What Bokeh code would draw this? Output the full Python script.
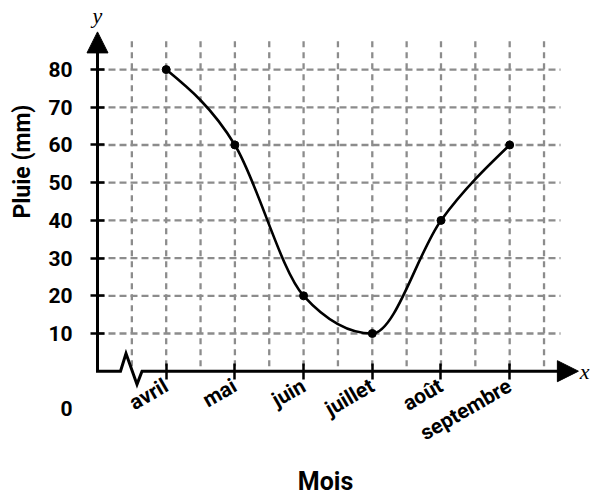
import math
import numpy as np
from bokeh.plotting import figure
from bokeh.models import Arrow, NormalHead, Label, FixedTicker
from bokeh.embed import file_html
from bokeh.resources import INLINE

# ---- data ----
months = ["avril", "mai", "juin", "juillet", "août", "septembre"]
rain = [80, 60, 20, 10, 40, 60]
y_ticks = [10, 20, 30, 40, 50, 60, 70, 80]
zero_label = "0"
x_title = "Mois"
y_title = "Pluie (mm)"

xs = list(range(len(months)))

# ---- geometry of the drawn axes (data units) ----
y_axis_x = -1.0
y_axis_top = 90.0
x_axis_tip = 6.0
grid_top = 87.5
grid_right = 5.74
break_x = [-0.665, -0.585, -0.425, -0.352]
break_y = [0.0, 4.7, -3.5, 0.0]

FONT = "Roboto"
SERIF = "Liberation Serif"
GRID = "#8c8c8c"

p = figure(width=591, height=498, x_range=(-2.412, 6.191), y_range=(-33.77, 98.33),
           output_backend="svg", toolbar_location=None, min_border=0)
p.outline_line_color = None
p.xgrid.visible = False
p.ygrid.visible = False

# ---- dashed grid ----
gx = np.arange(-0.5, len(months) - 0.5 + 0.01, 0.5)
p.segment(x0=gx, x1=gx, y0=grid_top, y1=0, line_color=GRID, line_width=2.3, line_dash="6 5")
p.segment(x0=y_axis_x, x1=grid_right, y0=y_ticks, y1=y_ticks, line_color=GRID, line_width=2.3, line_dash="7 4")

# ---- smooth curve (monotone cubic, drawn as bezier segments) ----
xa = np.array(xs, dtype=float)
ya = np.array(rain, dtype=float)
h = np.diff(xa)
s = np.diff(ya) / h
t = np.zeros(len(xa))
for i in range(1, len(xa) - 1):
    if s[i - 1] * s[i] <= 0:
        t[i] = 0.0
    else:
        pp = (s[i - 1] * h[i] + s[i] * h[i - 1]) / (h[i - 1] + h[i])
        t[i] = (np.sign(s[i - 1]) + np.sign(s[i])) * min(abs(s[i - 1]), abs(s[i]), 0.5 * abs(pp))
t[0] = (3 * s[0] - t[1]) / 2
t[-1] = (3 * s[-1] - t[-2]) / 2
p.bezier(x0=xa[:-1], y0=ya[:-1], x1=xa[1:], y1=ya[1:],
         cx0=xa[:-1] + h / 3, cy0=ya[:-1] + t[:-1] * h / 3,
         cx1=xa[1:] - h / 3, cy1=ya[1:] - t[1:] * h / 3,
         line_color="black", line_width=2.6)
p.scatter(xs, rain, size=8, color="black")

# ---- axis lines (with the break) and arrow heads ----
ax_x = [y_axis_x, y_axis_x] + break_x + [x_axis_tip - 0.1]
ax_y = [y_axis_top - 2, 0] + break_y + [0]
p.line(ax_x, ax_y, line_color="black", line_width=3, line_join="miter")
p.add_layout(Arrow(x_start=y_axis_x, y_start=y_axis_top - 10, x_end=y_axis_x, y_end=y_axis_top,
                   line_alpha=0,
                   end=NormalHead(size=21, fill_color="black", line_color="black", line_width=1)))
p.add_layout(Arrow(x_start=x_axis_tip - 0.5, y_start=0, x_end=x_axis_tip, y_end=0,
                   line_alpha=0,
                   end=NormalHead(size=21, fill_color="black", line_color="black", line_width=1)))

# ---- axes (fixed at the drawn axis lines): ticks and tick labels ----
ya_ = p.yaxis[0]
ya_.fixed_location = y_axis_x
ya_.ticker = FixedTicker(ticks=y_ticks)
ya_.axis_line_color = None
ya_.minor_tick_line_color = None
ya_.major_tick_line_color = "black"
ya_.major_tick_line_width = 2.5
ya_.major_tick_in = 7
ya_.major_tick_out = 7
ya_.major_label_standoff = 18
ya_.major_label_text_font = FONT
ya_.major_label_text_font_style = "bold"
ya_.major_label_text_font_size = "21px"
ya_.major_label_text_color = "black"

xa_ = p.xaxis[0]
xa_.fixed_location = 0
xa_.ticker = FixedTicker(ticks=xs)
xa_.major_label_overrides = {i: m for i, m in enumerate(months)}
xa_.major_label_orientation = math.pi / 6
xa_.axis_line_color = None
xa_.minor_tick_line_color = None
xa_.major_tick_line_color = "black"
xa_.major_tick_line_width = 2.5
xa_.major_tick_in = 8
xa_.major_tick_out = 8
xa_.major_label_standoff = 5
xa_.major_label_text_font = FONT
xa_.major_label_text_font_style = "bold"
xa_.major_label_text_font_size = "21px"
xa_.major_label_text_color = "black"

# ---- texts ----
p.add_layout(Label(x=y_axis_x, y=-10, x_offset=-25, text=zero_label, text_align="right",
                   text_baseline="middle", text_font=FONT, text_font_style="bold",
                   text_font_size="21px", text_color="black"))
p.add_layout(Label(x=y_axis_x, y=55.6, x_offset=-75, text=y_title, angle=math.pi / 2,
                   text_align="center", text_baseline="middle", text_font=FONT,
                   text_font_style="bold", text_font_size="23px", text_color="black"))
p.add_layout(Label(x=2.32, y=-29.3, text=x_title, text_align="center",
                   text_baseline="middle", text_font=FONT, text_font_style="bold",
                   text_font_size="25px", text_color="black"))
p.add_layout(Label(x=y_axis_x, y=94.3, text="y", text_align="center", text_baseline="middle",
                   text_font=SERIF, text_font_style="italic", text_font_size="22px",
                   text_color="black"))
p.add_layout(Label(x=x_axis_tip + 0.02, y=0, text="x", text_align="left", text_baseline="middle",
                   text_font=SERIF, text_font_style="italic", text_font_size="22px",
                   text_color="black"))

open("out.html", "w").write(file_html(p, INLINE))
